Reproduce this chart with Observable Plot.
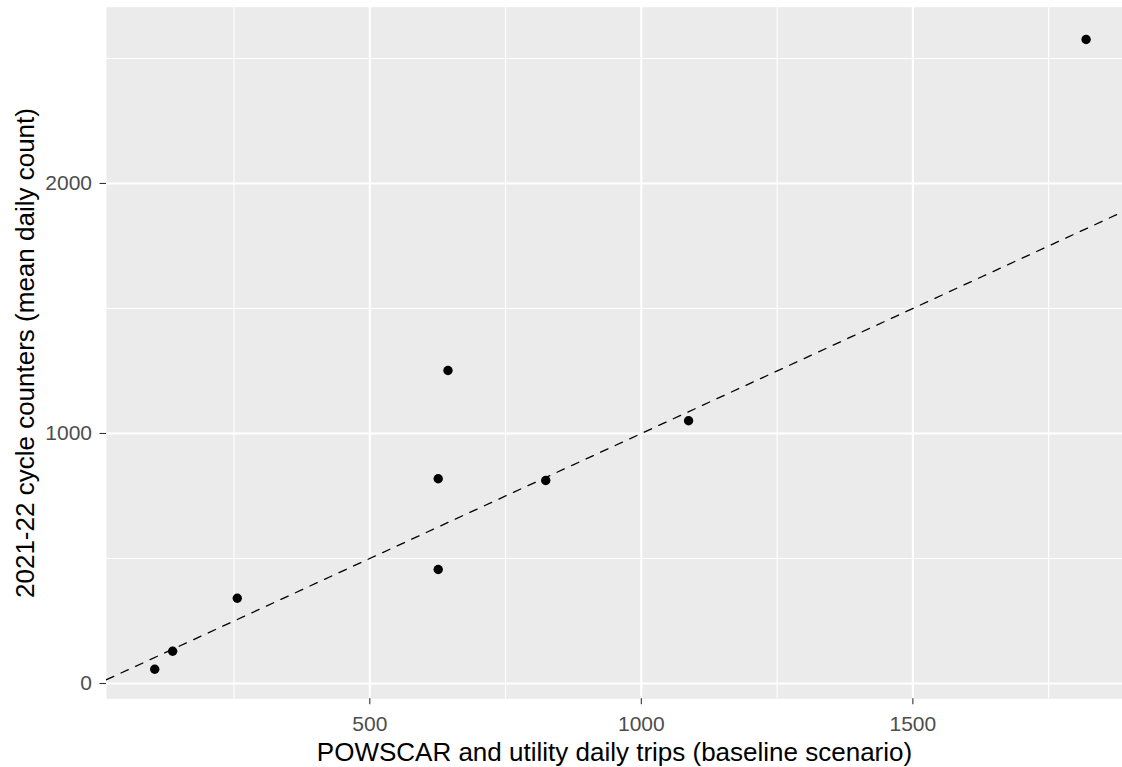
<!DOCTYPE html>
<html>
<head>
<meta charset="utf-8">
<script src="https://cdn.jsdelivr.net/npm/d3@7"></script>
<script src="https://cdn.jsdelivr.net/npm/@observablehq/plot@0.6"></script>
<style>
  html, body { margin: 0; padding: 0; background: #ffffff; }
  #chart svg { display: block; }
</style>
</head>
<body>
<div id="chart"></div>
<script>
// ---- Data ----
const tripsBaseline = [104, 137, 256, 626, 626, 644, 824, 1087, 1819];   // x: POWSCAR and utility daily trips
const counterMean   = [57, 129, 341, 456, 819, 1252, 812, 1051, 2576];   // y: 2021-22 cycle counters mean daily count

const xMajorTicks = [500, 1000, 1500];
const xMinorTicks = [250, 750, 1250, 1750];
const yMajorTicks = [0, 1000, 2000];
const yMinorTicks = [500, 1500, 2500];

const xTitle = "POWSCAR and utility daily trips (baseline scenario)";
const yTitle = "2021-22 cycle counters (mean daily count)";

// reference line y = intercept + slope * x (identity line)
const ablineIntercept = 0;
const ablineSlope = 1;

// ---- Build tables ----
const points = tripsBaseline.map((x, i) => ({x, y: counterMean[i]}));
const xDomain = [15.2, 1886];
const yDomain = [-61.2, 2705];
const refLine = xDomain.map(x => ({x, y: ablineIntercept + ablineSlope * x}));

const tickFont = 21;
const titleFont = 26;

const chart = Plot.plot({
  width: 1122,
  height: 767,
  marginLeft: 106,
  marginRight: 0,
  marginTop: 6.7,
  marginBottom: 68.7,
  style: {
    background: "#ffffff",
    fontFamily: "'Liberation Sans', Arial, sans-serif",
    overflow: "visible"
  },
  x: {domain: xDomain, label: null},
  y: {domain: yDomain, label: null},
  marks: [
    Plot.frame({fill: "#EBEBEB", stroke: null}),
    // minor grid
    Plot.ruleX(xMinorTicks, {stroke: "#ffffff", strokeWidth: 1.1, strokeOpacity: 1}),
    Plot.ruleY(yMinorTicks, {stroke: "#ffffff", strokeWidth: 1.1, strokeOpacity: 1}),
    // major grid
    Plot.ruleX(xMajorTicks, {stroke: "#ffffff", strokeWidth: 2.1, strokeOpacity: 1}),
    Plot.ruleY(yMajorTicks, {stroke: "#ffffff", strokeWidth: 2.1, strokeOpacity: 1}),
    // axes
    Plot.axisX(xMajorTicks, {
      tickSize: 6, tickPadding: 11, fontSize: tickFont,
      stroke: "#333333", fill: "#4D4D4D", strokeWidth: 1.1,
      tickFormat: d => String(d), label: null
    }),
    Plot.axisY(yMajorTicks, {
      tickSize: 6.5, tickPadding: 8, fontSize: tickFont,
      stroke: "#333333", fill: "#4D4D4D", strokeWidth: 1.1,
      tickFormat: d => String(d), label: null
    }),
    // identity reference line
    Plot.line(refLine, {x: "x", y: "y", stroke: "#000000", strokeWidth: 1.3, strokeDasharray: "8,8", clip: true}),
    // points
    Plot.dot(points, {x: "x", y: "y", r: 4.7, fill: "#000000", stroke: null}),
    // axis titles
    Plot.text([xTitle], {
      frameAnchor: "bottom", dy: 62.5, lineAnchor: "bottom", textAnchor: "middle",
      fontSize: titleFont, fill: "#000000"
    }),
    Plot.text([yTitle], {
      frameAnchor: "left", dx: -73, rotate: -90, lineAnchor: "bottom", textAnchor: "middle",
      fontSize: titleFont, fill: "#000000"
    })
  ]
});

document.getElementById("chart").appendChild(chart);
</script>
</body>
</html>
